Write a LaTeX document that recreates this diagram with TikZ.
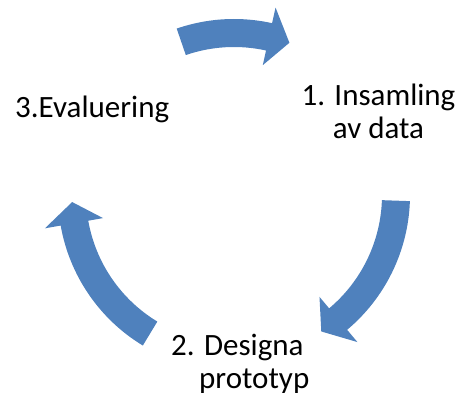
\documentclass[tikz,border=0pt]{standalone}
\usepackage{fontspec}
\setmainfont{Carlito}
\usetikzlibrary{positioning}

\definecolor{arrowblue}{RGB}{79,129,189}

% radii of the ring: band edges, centre line, head corners
\def\Rout{176pt}
\def\Rin{148pt}
\def\Rmid{162pt}
\def\Rhout{192pt}
\def\Rhin{133pt}

% curved block arrow round (hub): #1 tail angle, #2 head base angle, #3 tip angle
\newcommand{\cyclearrow}[3]{%
  \fill[arrowblue] ([shift={(hub)}]#1:\Rout) arc[start angle=#1, end angle=#2, radius=\Rout]
    -- ([shift={(hub)}]#2:\Rhout) -- ([shift={(hub)}]#3:\Rmid) -- ([shift={(hub)}]#2:\Rhin)
    -- ([shift={(hub)}]#2:\Rin) arc[start angle=#2, end angle=#1, radius=\Rin] -- cycle;}

\begin{document}
\begin{tikzpicture}[
        x=1pt, y=1pt,
        phase/.style={align=center, inner sep=0pt, font=\fontsize{31}{32.5}\selectfont}
    ]
        \useasboundingbox (0,0) rectangle (459,398);
        \coordinate (hub) at (234,203);

        % base anchor sits on the last line
        \node[phase, anchor=base] (collect) at (378.5,259.7) {1. Insamling\\av data};
        \node[phase, align=left, anchor=base west] (design) at (171,9.5) {2. Designa\\\hspace*{28pt}prototyp};
        \node[phase, anchor=base west] (evaluate) at (15,280.7) {3.Evaluering};

        \cyclearrow{109}{77.5}{70}
        \cyclearrow{-2}{-50}{-57.4}
        \cyclearrow{238.8}{190}{182.5}

    \end{tikzpicture}
\end{document}
